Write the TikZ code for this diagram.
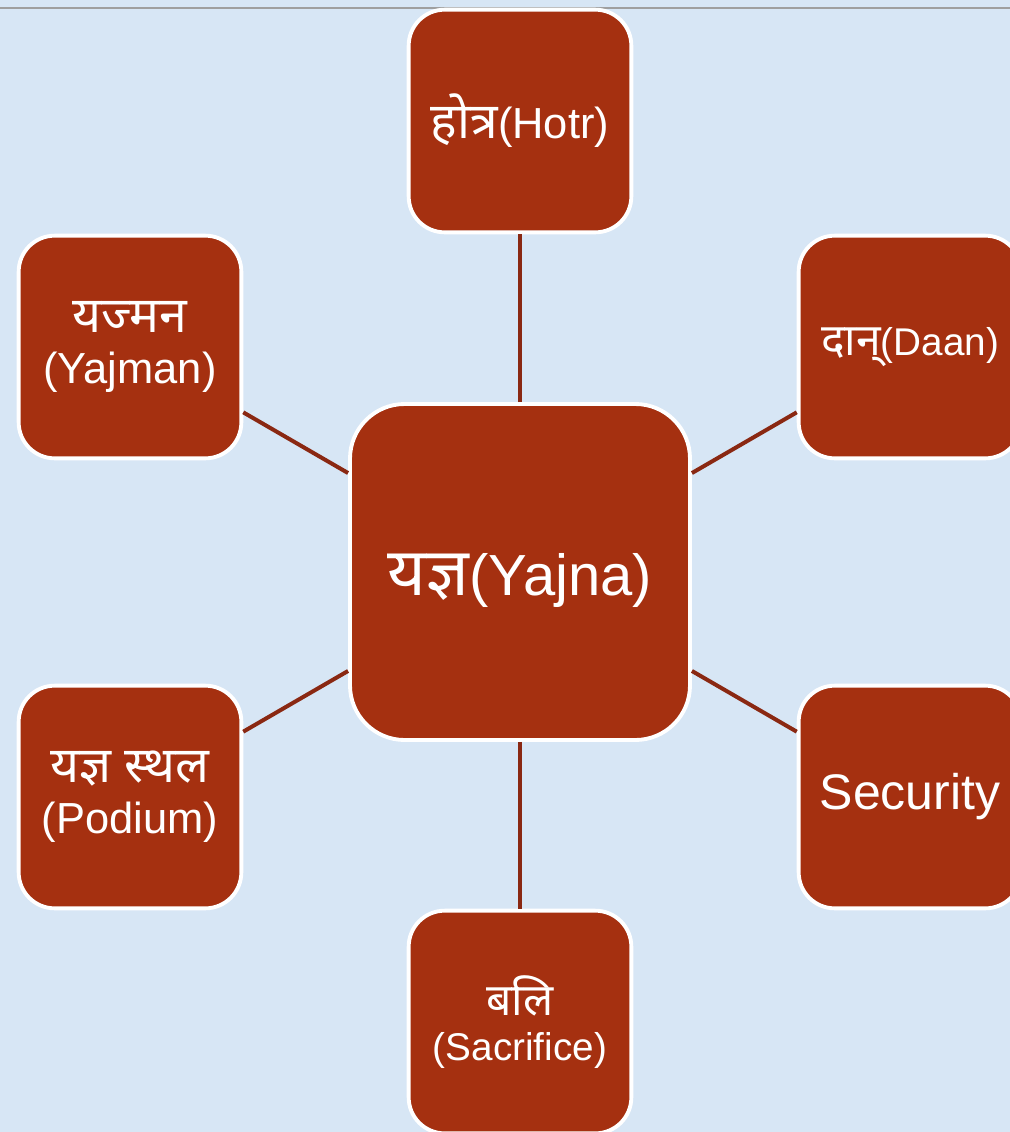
\documentclass[tikz,border=0pt]{standalone}
\usepackage{fontspec}
\setmainfont{Liberation Sans}
\newfontfamily\dev[Script=Devanagari,Scale=1.15]{Noto Sans}
\definecolor{bgc}{RGB}{215,230,245}
\definecolor{boxfill}{RGB}{165,48,16}
\definecolor{spokec}{RGB}{138,40,18}
\begin{document}
\begin{tikzpicture}[x=0.75pt,y=-0.75pt,
  box/.style={draw=white, line width=2.9pt, fill=boxfill, rounded corners=27pt,
    minimum width=167pt, minimum height=167pt, inner sep=0pt, text=white,
    align=center, font=\fontsize{32.6}{38}\selectfont},
  hub/.style={box, minimum width=255pt, minimum height=252pt, rounded corners=41pt,
    font=\fontsize{43.5}{48}\selectfont},
  spoke/.style={draw=spokec, line width=3pt}]
\fill[bgc] (0,0) rectangle (1010,1132);
\clip (0,0) rectangle (1010,1132);
\draw[gray!75, line width=0.9pt] (0,8) -- (1010,8);
\node[hub] (hub) at (520,572) {\rule{0pt}{45pt}{\dev यज्ञ}(Yajna)};
\node[box] (hotr) at (520,121) {{\dev होत्र}(Hotr)};
\node[box] (yaj) at (130,347) {{\dev यज्मन}\\(Yajman)};
\node[box, font=\fontsize{29}{33}\selectfont] (daan) at (910,347) {{\dev दान्}(Daan)};
\node[box] (pod) at (130,797) {{\dev यज्ञ स्थल}\\(Podium)};
\node[box, font=\fontsize{37.5}{40}\selectfont] (sec) at (910,797) {Security};
\node[box, font=\fontsize{29}{34}\selectfont] (bali) at (520,1022) {{\dev बलि}\\(Sacrifice)};
\draw[spoke] (hub) -- (hotr);
\draw[spoke] (hub) -- (yaj);
\draw[spoke] (hub) -- (daan);
\draw[spoke] (hub) -- (pod);
\draw[spoke] (hub) -- (sec);
\draw[spoke] (hub) -- (bali);
\end{tikzpicture}
\end{document}
